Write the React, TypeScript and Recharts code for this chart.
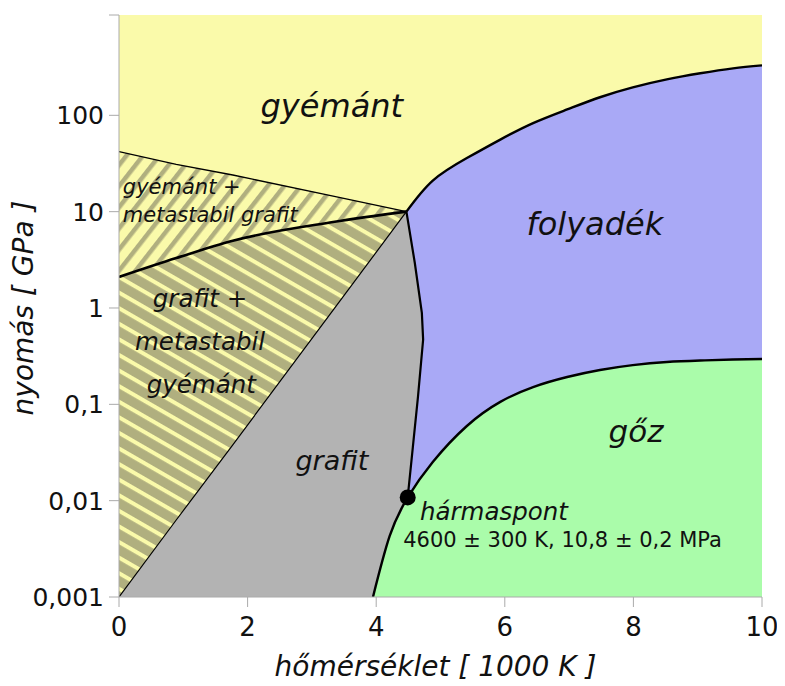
import {
  Area,
  CartesianGrid,
  ComposedChart,
  Line,
  ReferenceDot,
  XAxis,
  YAxis,
} from "recharts";

const FONT = "DejaVu Sans";
const INK = "#111";
const FRAME = "#aaaaaa";
const YELLOW = "#fafaaa";
const OLIVE = "#b0af7f";
const GRAY = "#b3b3b3";
const BLUE = "#a9a9f6";
const GREEN = "#aafcaa";

// hőmérséklet: 1000 K, nyomás: GPa
const xTicks = [0, 2, 4, 6, 8, 10];
const yTickValues = [0.001, 0.01, 0.1, 1, 10, 100];
const yTickLabels = ["0,001", "0,01", "0,1", "1", "10", "100"];
const pressureMin = 0.001;
const pressureMax = 1100;

// folyadék: gyémánt–folyadék (felső) és folyadék–gőz (alsó) határ
const liquidT = [4.47, 4.88, 5.41, 5.93, 6.44, 6.97, 7.48, 7.99, 8.52, 9.04, 9.55, 10];
const diamondLiquidP = [10, 21, 36, 56, 83, 115, 154, 195, 236, 273, 307, 330];
const liquidVaporP = [0.0098, 0.0252, 0.0596, 0.106, 0.151, 0.192, 0.227, 0.255, 0.275, 0.285, 0.292, 0.295];

// gőznyomás görbe (grafit–gőz + folyadék–gőz)
const vaporT = [3.95, 4.21, 4.49, 4.88, 5.41, 5.93, 6.44, 6.97, 7.48, 7.99, 8.52, 9.04, 9.55, 10];
const vaporP = [0.001, 0.0043, 0.0108, 0.0252, 0.0596, 0.106, 0.151, 0.192, 0.227, 0.255, 0.275, 0.285, 0.292, 0.295];

// grafit olvadási görbe
const meltT = [4.47, 4.6, 4.71, 4.73, 4.65, 4.57, 4.49];
const meltP = [10, 2.95, 0.89, 0.47, 0.12, 0.036, 0.0108];

// grafit tartomány alsó / felső határa
const graphiteT = [0, 3.95, 4.21, 4.47, 4.49, 4.57, 4.6, 4.65, 4.71, 4.73];
const graphiteLowP = [0.001, 0.001, 0.0043, 0.0098, 0.0108, 0.036, 0.057, 0.12, 0.33, 0.47];
const graphiteHighP = [0.001, 3.43, 5.85, 10, 8.3, 3.9, 2.95, 1.7, 0.89, 0.47];

// metastabil sávok
const hatchT = [0, 0.89, 1.77, 3.33, 4.47];
const metastableP = [42, 31, 24, 14.5, 10];
const equilibriumP = [2.1, 3.3, 5.0, 7.8, 10];
const spinodalP = [0.001, 0.0063, 0.038, 0.95, 10];

const tripleT = 4.49;
const tripleP = 0.0108;

const lg = (v: number) => Math.log10(v);
const line = (t: number[], p: number[]) => t.map((x, i) => ({ t: x, p: lg(p[i]) }));
const band = (t: number[], lo: number[], hi: number[]) =>
  t.map((x, i) => ({ t: x, band: [lg(lo[i]), lg(hi[i])] }));
const floorP = vaporT.map(() => pressureMin);

function caption(text: string, size: number, anchor: "start" | "middle" = "middle", italic = true) {
  return (props: any) => (
    <text
      x={props.cx}
      y={props.cy}
      fontSize={size}
      fontFamily={FONT}
      fontStyle={italic ? "italic" : "normal"}
      textAnchor={anchor}
      fill={INK}
    >
      {text}
    </text>
  );
}

const xTitle = (props: any) => {
  const { x, y, width } = props.viewBox;
  return (
    <text x={x + width / 2 - 5} y={y + 79} fontSize={28} fontFamily={FONT} fontStyle="italic" textAnchor="middle" fill={INK}>
      hőmérséklet [ 1000 K ]
    </text>
  );
};

const yTitle = (props: any) => {
  const { x, y, height } = props.viewBox;
  const cx = x + 15;
  const cy = y + height / 2 + 2;
  return (
    <text
      x={cx}
      y={cy}
      transform={`rotate(-90 ${cx} ${cy})`}
      fontSize={28}
      fontFamily={FONT}
      fontStyle="italic"
      textAnchor="middle"
      dominantBaseline="central"
      fill={INK}
    >
      nyomás [ GPa ]
    </text>
  );
};

const yTicks = [...yTickValues.map(lg), lg(pressureMax)];
const yTickFormat = (v: number) => {
  const i = yTickValues.findIndex((p) => Math.abs(lg(p) - v) < 1e-6);
  return i >= 0 ? yTickLabels[i] : "";
};

export default function App() {
  return (
    <ComposedChart width={777} height={678} margin={{ top: 7, right: 23, bottom: 0, left: 0 }}>
      <defs>
        <pattern id="hatchUpper" patternUnits="userSpaceOnUse" width={13} height={13} patternTransform="rotate(-52)">
          <rect width={13} height={13} fill={YELLOW} />
          <rect width={13} height={4.5} fill={OLIVE} />
        </pattern>
        <pattern id="hatchLower" patternUnits="userSpaceOnUse" width={13} height={13.5} patternTransform="rotate(30)">
          <rect width={13} height={13.5} fill={OLIVE} />
          <rect width={13} height={4} fill={YELLOW} />
        </pattern>
      </defs>
      <CartesianGrid horizontal={false} vertical={false} fill={YELLOW} fillOpacity={1} stroke="none" />

      <Area data={band(liquidT, liquidVaporP, diamondLiquidP)} dataKey="band" type="natural" fill={BLUE} fillOpacity={1} stroke="none" dot={false} activeDot={false} isAnimationActive={false} />
      <Area data={band(vaporT, floorP, vaporP)} dataKey="band" type="natural" fill={GREEN} fillOpacity={1} stroke="none" dot={false} activeDot={false} isAnimationActive={false} />
      <Area data={band(hatchT, equilibriumP, metastableP)} dataKey="band" type="monotone" fill="url(#hatchUpper)" fillOpacity={1} stroke="none" dot={false} activeDot={false} isAnimationActive={false} />
      <Area data={band(hatchT, spinodalP, equilibriumP)} dataKey="band" type="monotone" fill="url(#hatchLower)" fillOpacity={1} stroke="none" dot={false} activeDot={false} isAnimationActive={false} />
      <Area data={band(graphiteT, graphiteLowP, graphiteHighP)} dataKey="band" type="linear" fill={GRAY} fillOpacity={1} stroke="none" dot={false} activeDot={false} isAnimationActive={false} />

      <Line data={line(hatchT, spinodalP)} dataKey="p" type="linear" stroke="#000" strokeWidth={1.2} dot={false} activeDot={false} isAnimationActive={false} />
      <Line data={line(hatchT, metastableP)} dataKey="p" type="linear" stroke="#000" strokeWidth={1.4} dot={false} activeDot={false} isAnimationActive={false} />
      <Line data={line(hatchT, equilibriumP)} dataKey="p" type="monotone" stroke="#000" strokeWidth={2.6} dot={false} activeDot={false} isAnimationActive={false} />
      <Line data={line(liquidT, diamondLiquidP)} dataKey="p" type="natural" stroke="#000" strokeWidth={2.4} dot={false} activeDot={false} isAnimationActive={false} />
      <Line data={line(vaporT, vaporP)} dataKey="p" type="natural" stroke="#000" strokeWidth={2.4} dot={false} activeDot={false} isAnimationActive={false} />
      <Line data={line(meltT, meltP)} dataKey="p" type="linear" stroke="#000" strokeWidth={2.2} dot={false} activeDot={false} isAnimationActive={false} />

      <ReferenceDot x={tripleT} y={lg(tripleP)} r={8} fill="#000" stroke="none" />

      <ReferenceDot x={3.31} y={lg(95)} r={1} shape={caption("gyémánt", 32)} />
      <ReferenceDot x={0.06} y={lg(15.1)} r={1} shape={caption("gyémánt +", 21, "start")} />
      <ReferenceDot x={0.06} y={lg(7.8)} r={1} shape={caption("metastabil grafit", 21, "start")} />
      <ReferenceDot x={1.26} y={lg(1.02)} r={1} shape={caption("grafit +", 24.5)} />
      <ReferenceDot x={1.26} y={lg(0.366)} r={1} shape={caption("metastabil", 24.5)} />
      <ReferenceDot x={1.28} y={lg(0.131)} r={1} shape={caption("gyémánt", 24.5)} />
      <ReferenceDot x={3.31} y={lg(0.021)} r={1} shape={caption("grafit", 27)} />
      <ReferenceDot x={7.4} y={lg(5.7)} r={1} shape={caption("folyadék", 32)} />
      <ReferenceDot x={8.04} y={lg(0.041)} r={1} shape={caption("gőz", 31)} />
      <ReferenceDot x={4.68} y={lg(0.0063)} r={1} shape={caption("hármaspont", 24.5, "start")} />
      <ReferenceDot x={4.42} y={lg(0.0033)} r={1} shape={caption("4600 ± 300 K, 10,8 ± 0,2 MPa", 21, "start", false)} />

      <XAxis
        dataKey="t"
        type="number"
        domain={[0, 10]}
        ticks={xTicks}
        allowDataOverflow
        height={89}
        tickSize={10}
        tickMargin={11}
        axisLine={{ stroke: FRAME }}
        tickLine={{ stroke: FRAME }}
        tick={{ fill: INK, fontSize: 26, fontFamily: FONT }}
        label={{ content: xTitle }}
      />
      <YAxis
        type="number"
        domain={[lg(pressureMin), lg(pressureMax)]}
        ticks={yTicks}
        tickFormatter={yTickFormat}
        allowDataOverflow
        interval={0}
        width={111}
        tickSize={10}
        tickMargin={5}
        axisLine={{ stroke: FRAME }}
        tickLine={{ stroke: FRAME }}
        tick={{ fill: INK, fontSize: 25, fontFamily: FONT }}
        label={{ content: yTitle }}
      />
      <XAxis xAxisId="frameTop" orientation="top" type="number" domain={[0, 10]} height={0} tick={false} tickLine={false} axisLine={{ stroke: FRAME }} />
      <YAxis yAxisId="frameRight" orientation="right" type="number" domain={[0, 1]} width={0} tick={false} tickLine={false} axisLine={{ stroke: FRAME }} />
    </ComposedChart>
  );
}
